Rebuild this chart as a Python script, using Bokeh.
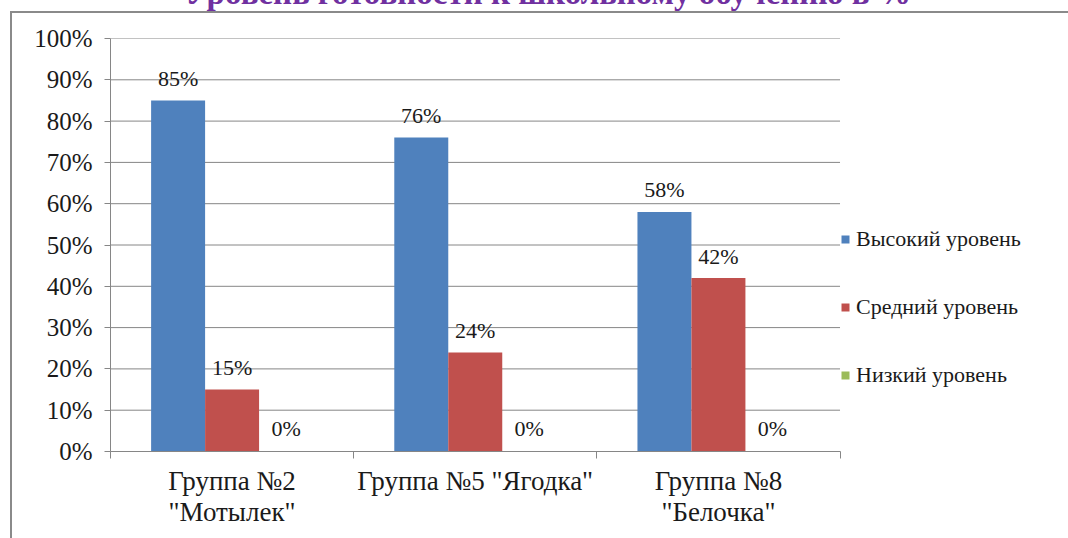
from bokeh.plotting import figure
from bokeh.layouts import column
from bokeh.models import (ColumnDataSource, Range1d, FixedTicker, PrintfTickFormatter,
                          Legend, LegendItem, LabelSet, Div)
from bokeh.transform import dodge
from bokeh.embed import file_html
from bokeh.resources import INLINE

# Chart data
groups = ["Группа №2\n\"Мотылек\"", "Группа №5 \"Ягодка\"", "Группа №8\n\"Белочка\""]
series_names = ["Высокий уровень", "Средний уровень", "Низкий уровень"]
high = [85, 76, 58]
medium = [15, 24, 42]
low = [0, 0, 0]
y_ticks = [0, 10, 20, 30, 40, 50, 60, 70, 80, 90, 100]
title_text = "Уровень готовности к школьному обучению в %"

colors = ["#4F81BD", "#C0504D", "#9BBB59"]
serif = "'Liberation Serif', 'DejaVu Serif', serif"
sans = "'Liberation Sans', Arial, sans-serif"
grey = "#868686"

n = len(groups)
xs = [i + 0.5 for i in range(n)]
src = ColumnDataSource(dict(
    x=xs,
    high=high, medium=medium, low=low,
    high_lbl=[f"{v}%" for v in high],
    medium_lbl=[f"{v}%" for v in medium],
    low_lbl=[f"{v}%" for v in low],
))

# Plot frame runs to the right edge so the legend can sit inside it;
# the category area covers the first 728 px of the 958 px frame.
frame_w, frame_h, cat_w = 958, 411, 728
p = figure(frame_width=frame_w, frame_height=frame_h,
           output_backend="svg", toolbar_location=None,
           x_range=Range1d(0, n * frame_w / cat_w), y_range=Range1d(0, 100),
           min_border_left=98, min_border_right=0,
           min_border_top=25, min_border_bottom=95,
           margin=(0, 0, 0, 10),
           styles={"border-left": "2px solid #8a8a8a", "border-top": "2px solid #8a8a8a"})
p.outline_line_color = None
p.background_fill_color = "white"
p.border_fill_color = "white"

# horizontal gridlines over the category area only
p.xgrid.visible = False
p.ygrid.visible = False
p.segment(x0=[0] * len(y_ticks), x1=[n] * len(y_ticks), y0=y_ticks, y1=y_ticks,
          line_color=grey, line_width=1, level="underlay")

# bars
bw = 0.222
offsets = [-bw, 0.0, bw]
renderers = []
for key, off, col in zip(["high", "medium", "low"], offsets, colors):
    r = p.vbar(x=dodge("x", off, range=p.x_range), top=key, width=bw, source=src,
               fill_color=col, line_color=None)
    renderers.append(r)

# value labels
for key, off in zip(["high", "medium"], offsets[:2]):
    p.add_layout(LabelSet(x=dodge("x", off, range=p.x_range), y=key, text=key + "_lbl",
                          source=src, y_offset=22, text_align="center",
                          text_baseline="middle", text_font=serif,
                          text_font_size="22px", text_color="#1a1a1a"))
p.add_layout(LabelSet(x=dodge("x", offsets[2], range=p.x_range), y="low", text="low_lbl",
                      source=src, y_offset=23, text_align="center",
                      text_baseline="middle", text_font=sans,
                      text_font_size="22px", text_color="#1a1a1a"))

# axes
p.yaxis.ticker = FixedTicker(ticks=y_ticks)
p.yaxis.formatter = PrintfTickFormatter(format="%d%%")
p.yaxis.axis_line_color = grey
p.yaxis.major_tick_line_color = grey
p.yaxis.major_tick_out = 6
p.yaxis.major_tick_in = 0
p.yaxis.minor_tick_line_color = None
p.yaxis.major_label_text_font = serif
p.yaxis.major_label_text_font_size = "25px"
p.yaxis.major_label_text_color = "#1a1a1a"
p.yaxis.major_label_standoff = 12

p.xaxis.bounds = (0, n)
p.xaxis.ticker = FixedTicker(ticks=xs, minor_ticks=list(range(n + 1)))
p.xaxis.major_label_overrides = {x: g for x, g in zip(xs, groups)}
p.xaxis.axis_line_color = grey
p.xaxis.major_tick_line_color = None
p.xaxis.major_tick_out = 0
p.xaxis.major_tick_in = 0
p.xaxis.minor_tick_line_color = grey
p.xaxis.minor_tick_out = 7
p.xaxis.minor_tick_in = 0
p.xaxis.major_label_text_font = serif
p.xaxis.major_label_text_font_size = "27px"
p.xaxis.major_label_text_line_height = 1.05
p.xaxis.major_label_text_color = "#1a1a1a"
p.xaxis.major_label_standoff = 7

# legend to the right of the bars
legend = Legend(items=[LegendItem(label=s, renderers=[r]) for s, r in zip(series_names, renderers)],
                location=(cat_w + 2, 63), orientation="vertical",
                glyph_width=10, glyph_height=10, label_height=20, spacing=42,
                label_standoff=6, padding=0, margin=0, border_line_color=None,
                background_fill_alpha=0, label_text_font=serif,
                label_text_font_size="22px", label_text_color="#1a1a1a")
p.add_layout(legend)

# chart title, partly above the visible area
title = Div(width=1068, height=11, margin=0,
            styles={"overflow": "hidden", "position": "relative"},
            text=("<div style=\"position:absolute;left:0;top:-25px;width:1096px;text-align:center;"
                  "white-space:nowrap;font:bold 33px 'Liberation Serif','DejaVu Serif',serif;"
                  "color:#7030A0;line-height:36px\">" + title_text + "</div>"))

layout = column(title, p, spacing=0)
open("out.html", "w").write(file_html(layout, INLINE))
